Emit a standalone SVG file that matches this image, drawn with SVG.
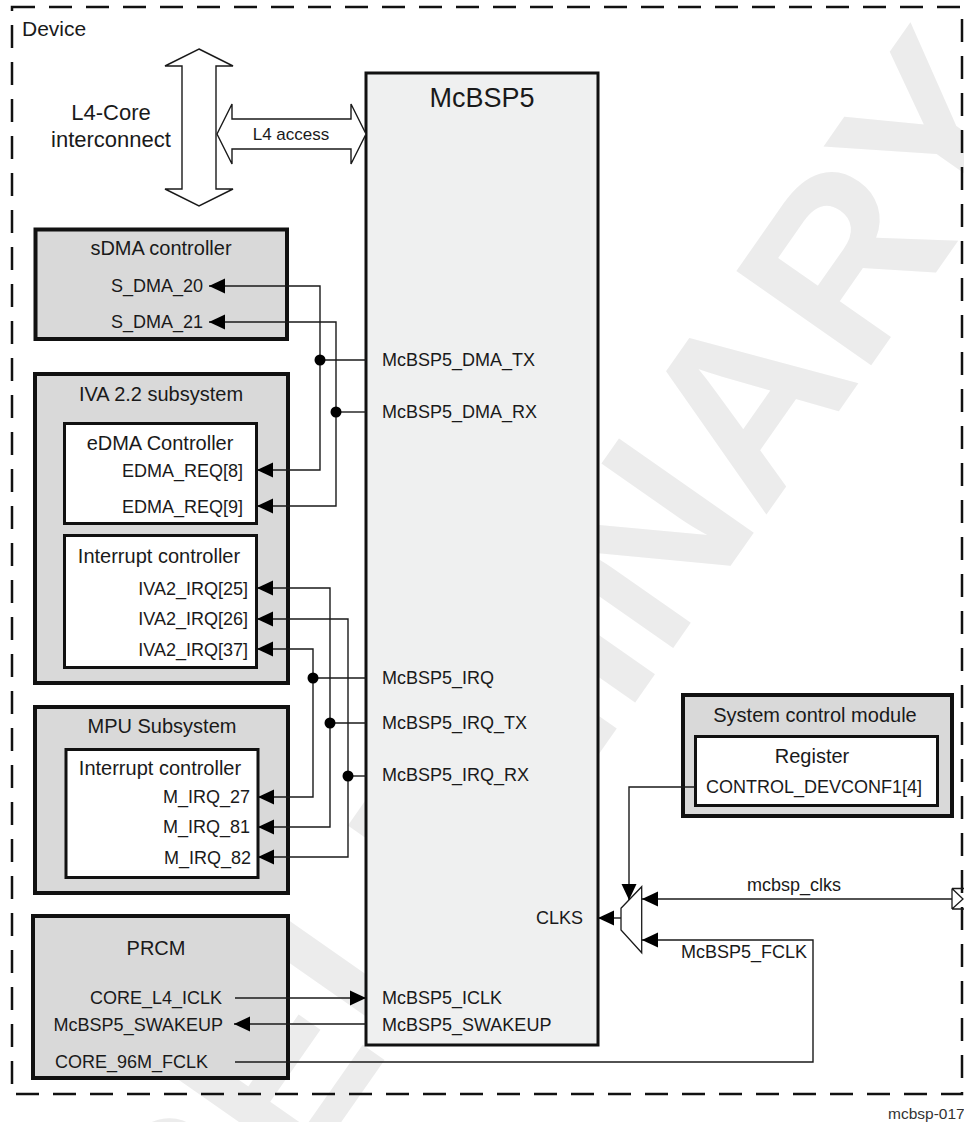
<svg xmlns="http://www.w3.org/2000/svg" width="964" height="1122" viewBox="0 0 964 1122">
<style>
text{font-family:"Liberation Sans",Arial,sans-serif;fill:#1a1a1a}
.t18{font-size:18px}
.t20{font-size:20px}
.mid{text-anchor:middle}
.end{text-anchor:end}
.outer{fill:#d9d9d9;stroke:#111;stroke-width:4}
.inner{fill:#fff;stroke:#111;stroke-width:3}
.wire{fill:none;stroke:#1a1a1a;stroke-width:1.4}
.arw{marker-end:url(#ah)}
.dot{fill:#000}
.big{fill:#fff;stroke:#1a1a1a;stroke-width:1.4}
</style>
<defs>
<marker id="ah" markerUnits="userSpaceOnUse" markerWidth="16" markerHeight="16" refX="16" refY="8" orient="auto">
<path d="M0,0.5 L16,8 L0,15.5 z" fill="#000"/>
</marker>
</defs>
<rect x="0" y="0" width="964" height="1122" fill="#fff"/>
<text transform="translate(108,1455) rotate(-55)" style="font-family:'Liberation Sans',Arial,sans-serif;font-weight:bold;font-size:239px;fill:#ececec">PRELIMINARY</text>

<g id="device">
<rect x="12" y="7" width="950" height="1087" fill="none" stroke="#111" stroke-width="2.5" stroke-dasharray="23 14"/>
<text x="22" y="36" style="font-size:21px">Device</text>
</g>

<g id="l4core">
<path class="big" d="M199,49 L233,66 L216,66 L216,189 L233,189 L199,206 L165,189 L182,189 L182,66 L165,66 Z"/>
<text class="mid" x="111" y="120" style="font-size:22px">L4-Core</text>
<text class="mid" x="111" y="147" style="font-size:22px">interconnect</text>
</g>

<g id="mcbsp5">
<rect x="366" y="73" width="232" height="972" fill="#eff0f0" stroke="#111" stroke-width="3"/>
<text class="mid" x="482" y="107" style="font-size:27px">McBSP5</text>
<text class="t18" x="382" y="366">McBSP5_DMA_TX</text>
<text class="t18" x="382" y="418">McBSP5_DMA_RX</text>
<text class="t18" x="382" y="684">McBSP5_IRQ</text>
<text class="t18" x="382" y="729">McBSP5_IRQ_TX</text>
<text class="t18" x="382" y="781">McBSP5_IRQ_RX</text>
<text class="t18 end" x="583" y="924">CLKS</text>
<text class="t18" x="382" y="1004">McBSP5_ICLK</text>
<text class="t18" x="382" y="1031">McBSP5_SWAKEUP</text>
</g>

<g id="sdma">
<rect class="outer" x="35.5" y="229.5" width="251.5" height="109.5"/>
<text class="t20 mid" x="161" y="255">sDMA controller</text>
<text class="t18 end" x="203" y="292">S_DMA_20</text>
<text class="t18 end" x="203" y="328">S_DMA_21</text>
</g>

<g id="iva">
<rect class="outer" x="35" y="374" width="253" height="309"/>
<text class="t20 mid" x="161" y="401">IVA 2.2 subsystem</text>
<g id="iva-edma">
<rect class="inner" x="64.5" y="423.5" width="192" height="100"/>
<text class="t20 mid" x="160" y="450">eDMA Controller</text>
<text class="t18 end" x="243" y="477">EDMA_REQ[8]</text>
<text class="t18 end" x="243" y="513">EDMA_REQ[9]</text>
</g>
<g id="iva-intc">
<rect class="inner" x="64.5" y="535.5" width="192" height="132"/>
<text class="t20 mid" x="159" y="563">Interrupt controller</text>
<text class="t18 end" x="248" y="595">IVA2_IRQ[25]</text>
<text class="t18 end" x="248" y="625">IVA2_IRQ[26]</text>
<text class="t18 end" x="248" y="656">IVA2_IRQ[37]</text>
</g>
</g>

<g id="mpu">
<rect class="outer" x="35" y="707" width="253" height="186"/>
<text class="t20 mid" x="162" y="733">MPU Subsystem</text>
<g id="mpu-intc">
<rect class="inner" x="66" y="749.5" width="192" height="128"/>
<text class="t20 mid" x="160" y="775">Interrupt controller</text>
<text class="t18 end" x="250" y="803">M_IRQ_27</text>
<text class="t18 end" x="250" y="833">M_IRQ_81</text>
<text class="t18 end" x="251" y="864">M_IRQ_82</text>
</g>
</g>

<g id="prcm">
<rect class="outer" x="33" y="916" width="255" height="162"/>
<text class="t20 mid" x="156" y="955">PRCM</text>
<text class="t18 end" x="222" y="1004">CORE_L4_ICLK</text>
<text class="t18 end" x="223" y="1031">McBSP5_SWAKEUP</text>
<text class="t18" x="55" y="1068">CORE_96M_FCLK</text>
</g>

<g id="scm">
<rect class="outer" x="683" y="695" width="269" height="121"/>
<text class="t20 mid" x="815" y="722">System control module</text>
<g id="scm-register">
<rect class="inner" x="695.5" y="736.5" width="242" height="69"/>
<text class="t20 mid" x="812" y="763">Register</text>
<text class="t18 mid" x="814" y="793">CONTROL_DEVCONF1[4]</text>
</g>
</g>

<g id="mux">
<path d="M621,908.3 L641.7,886.7 L641.7,952.7 L621,930 Z" fill="#fff" stroke="#1a1a1a" stroke-width="1.3"/>
</g>

<g id="pad">
<path d="M952,888.5 H964 M952,909 H964 M952,888.5 V909 M952,888.5 L963,899 L952,909" fill="#fff" stroke="#1a1a1a" stroke-width="1.3"/>
</g>

<g id="connectors">
<g id="l4-access">
<path class="big" d="M217,134 L232,104 L232,119 L351,119 L351,104 L366,134 L351,164 L351,149 L232,149 L232,164 Z"/>
<text class="mid" x="291" y="140" style="font-size:17px">L4 access</text>
</g>
<path class="wire" d="M366,360 H320"/>
<path class="wire arw" d="M320,360 V286 H209"/>
<path class="wire arw" d="M320,360 V470 H257"/>
<circle class="dot" cx="320" cy="360" r="5.5"/>

<path class="wire" d="M366,412 H336"/>
<path class="wire arw" d="M336,412 V322 H209"/>
<path class="wire arw" d="M336,412 V506 H257"/>
<circle class="dot" cx="336" cy="412" r="5.5"/>

<path class="wire" d="M366,678 H313"/>
<path class="wire arw" d="M313,678 V649 H257"/>
<path class="wire arw" d="M313,678 V797 H258"/>
<circle class="dot" cx="313" cy="678" r="5.5"/>

<path class="wire" d="M366,723 H330"/>
<path class="wire arw" d="M330,723 V588 H257"/>
<path class="wire arw" d="M330,723 V827 H258"/>
<circle class="dot" cx="330" cy="723" r="5.5"/>

<path class="wire" d="M366,776 H348"/>
<path class="wire arw" d="M348,776 V619 H257"/>
<path class="wire arw" d="M348,776 V857 H258"/>
<circle class="dot" cx="348" cy="776" r="5.5"/>

<path class="wire arw" d="M235,998 H366"/>
<path class="wire arw" d="M366,1024 H234"/>
<path class="wire arw" d="M235,1062 H813 V940 H642"/>
<text class="t18" x="681" y="958">McBSP5_FCLK</text>
<path class="wire arw" d="M952,899 H642"/>
<text class="t18 mid" x="794" y="891">mcbsp_clks</text>
<path class="wire arw" d="M695,787 H629 V900"/>
<path class="wire arw" d="M621,918 H598"/>
</g>

<text x="888" y="1119" style="font-size:15.5px;fill:#333">mcbsp-017</text>
</svg>
